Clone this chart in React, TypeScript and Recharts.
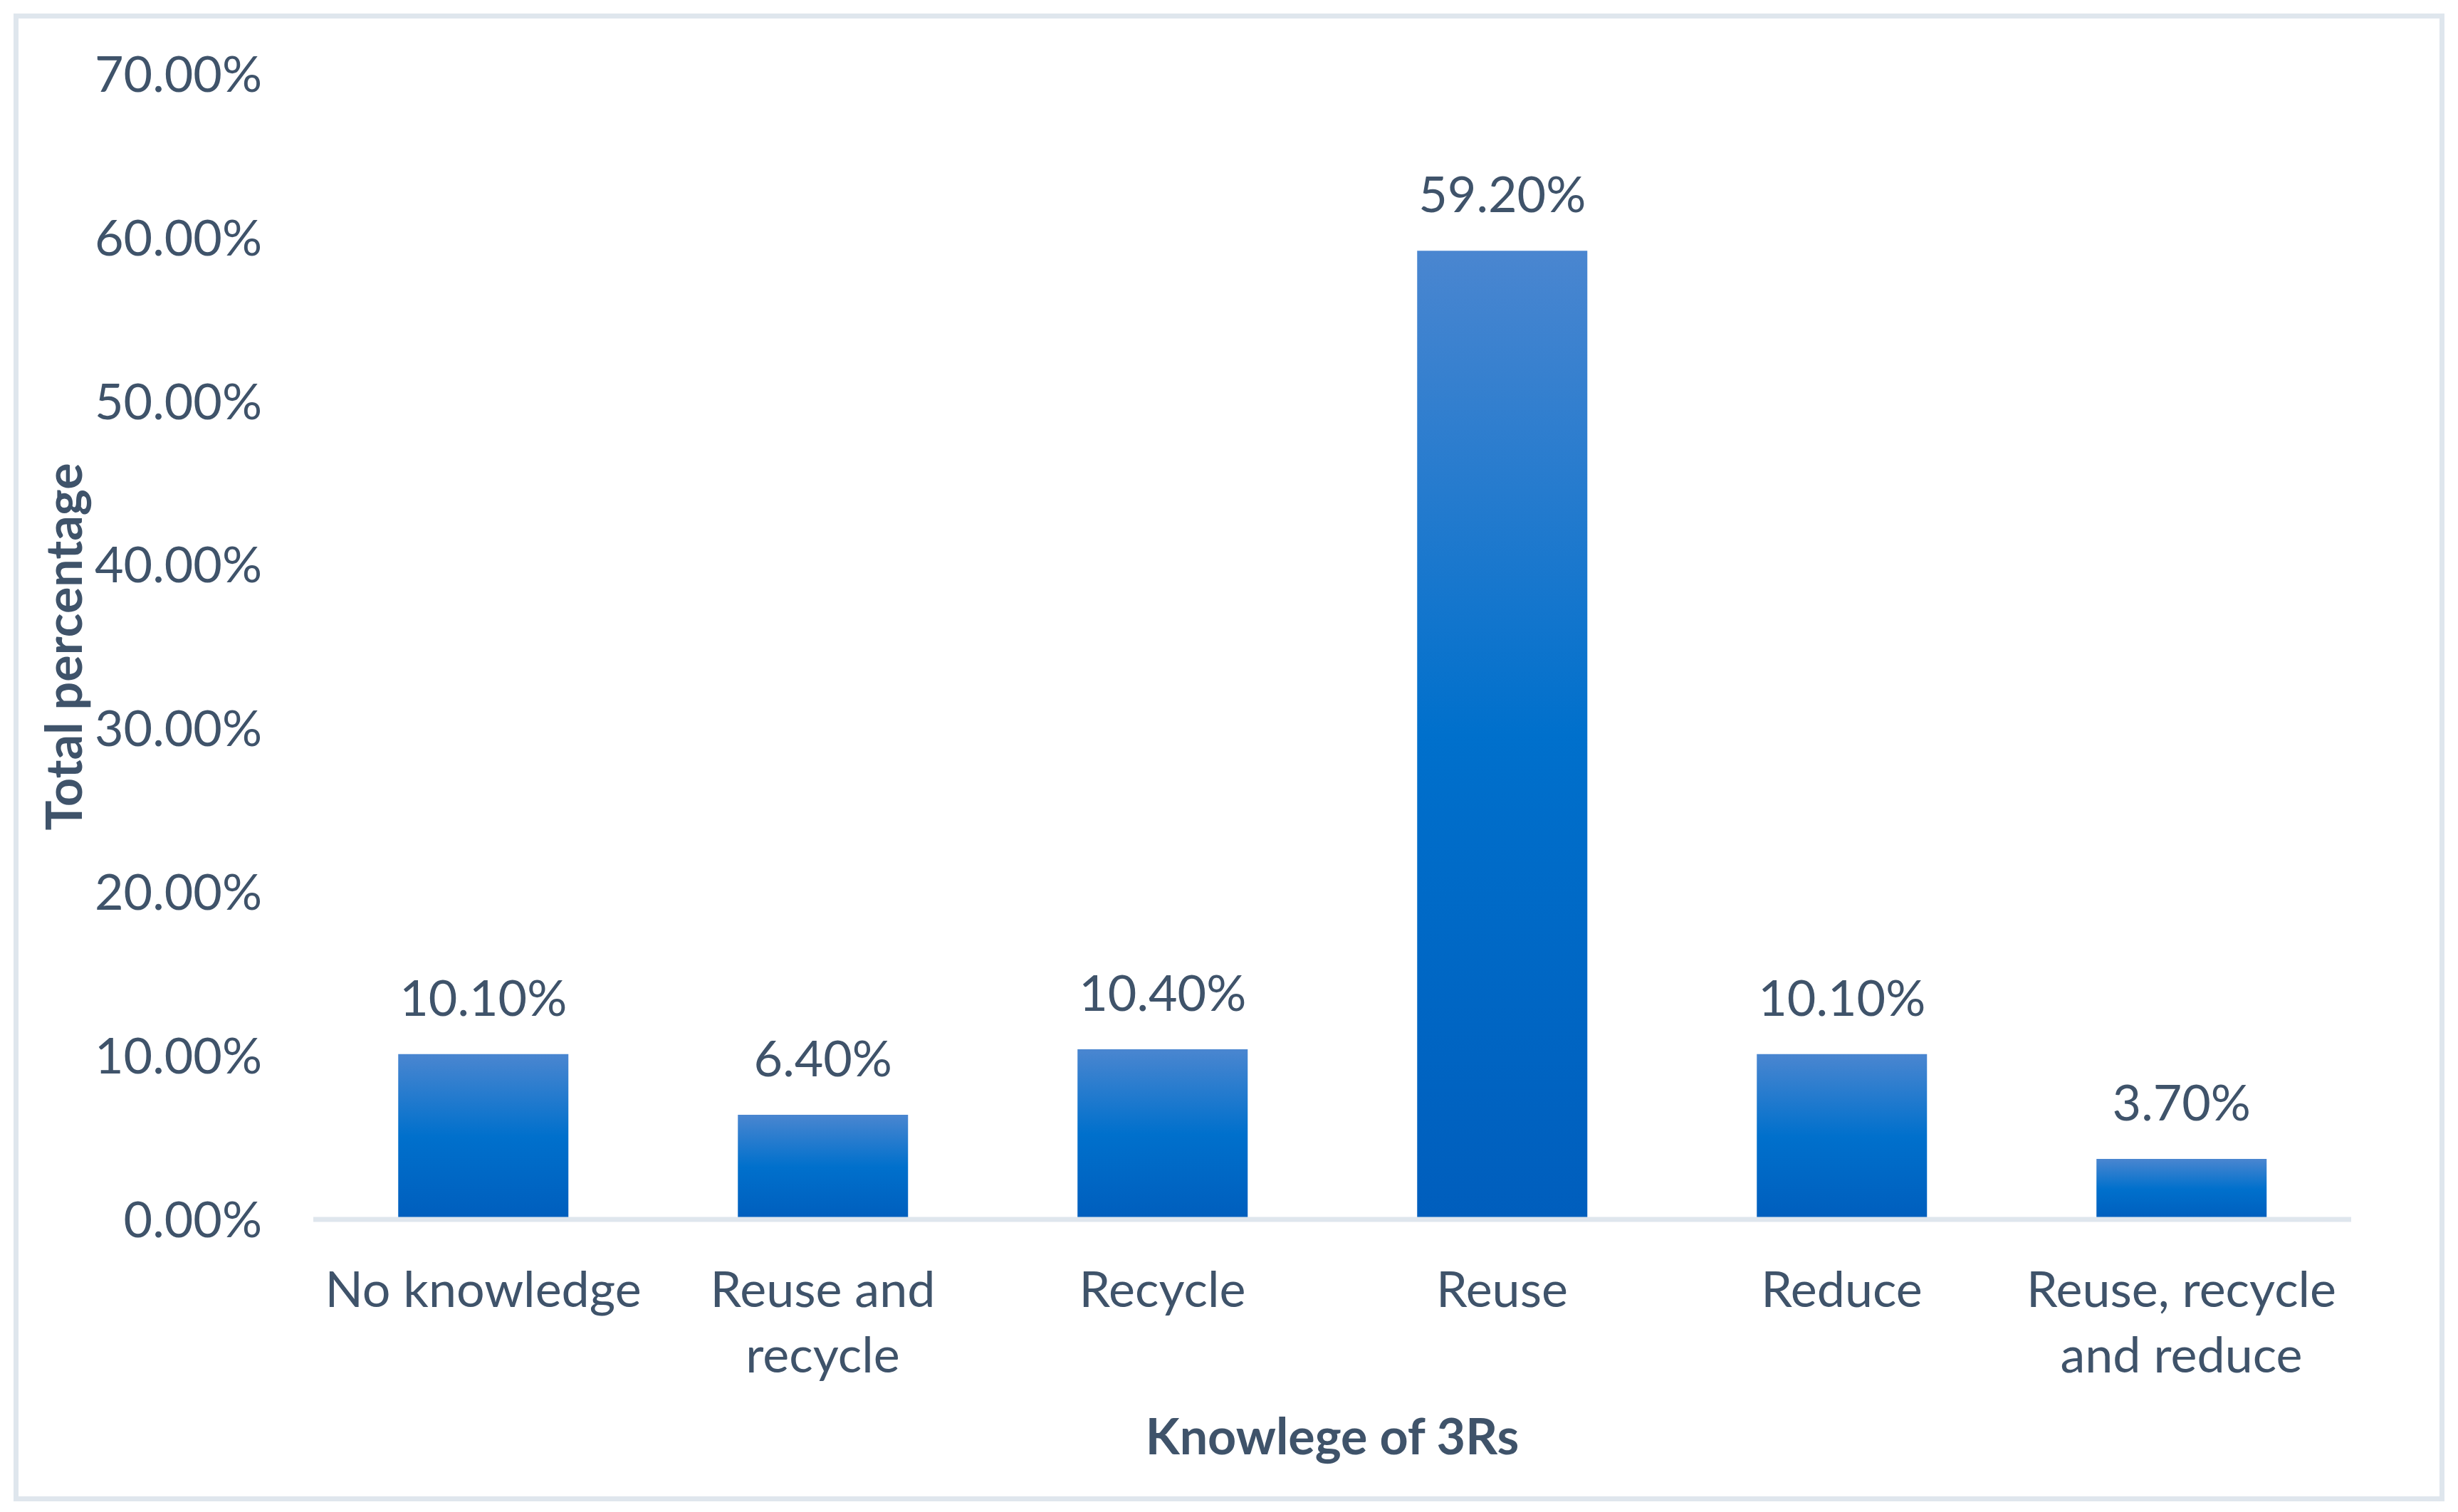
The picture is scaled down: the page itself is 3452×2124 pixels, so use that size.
import React from "react";
import { BarChart, Bar, XAxis, YAxis, LabelList, Label } from "recharts";

const categories = [
  "No knowledge",
  "Reuse and recycle",
  "Recycle",
  "Reuse",
  "Reduce",
  "Reuse, recycle and reduce",
];
const percentages = [10.1, 6.4, 10.4, 59.2, 10.1, 3.7];
const yTicks = [0, 10, 20, 30, 40, 50, 60, 70];

const data = categories.map((name, i) => ({ name, value: percentages[i] }));

const TEXT = "#3f536a";
const FONT = "Lato, 'Open Sans', sans-serif";

function wrap(label: string, max: number): string[] {
  const words = label.split(" ");
  const lines: string[] = [];
  let cur = "";
  for (const w of words) {
    const next = cur ? cur + " " + w : w;
    if (next.length > max && cur) {
      lines.push(cur);
      cur = w;
    } else {
      cur = next;
    }
  }
  if (cur) lines.push(cur);
  return lines;
}

const XTick = (props: any) => {
  const { x, y, payload } = props;
  const lines = wrap(String(payload.value), 14);
  return (
    <g>
      {lines.map((l, i) => (
        <text
          key={i}
          x={x}
          y={y + 123 + i * 92}
          textAnchor="middle"
          fill={TEXT}
          fontSize={70}
          fontFamily={FONT}
        >
          {l}
        </text>
      ))}
    </g>
  );
};

const BarLabel = (props: any) => {
  const { x, y, width, value } = props;
  return (
    <text
      x={x + width / 2}
      y={y - 54}
      textAnchor="middle"
      fill={TEXT}
      fontSize={70}
      fontFamily={FONT}
    >
      {Number(value).toFixed(2) + "%"}
    </text>
  );
};

export default function App() {
  return (
    <div style={{ position: "absolute", left: 0, top: 0, width: 3452, height: 2124, background: "#fff" }}>
      <div
        style={{
          position: "absolute",
          left: 19,
          top: 19,
          width: 3400,
          height: 2076,
          border: "7px solid #dfe6ed",
          pointerEvents: "none",
        }}
      />
      <div style={{ position: "absolute", left: 0, top: 0 }}>
        <BarChart
          width={3452}
          height={2124}
          data={data}
          margin={{ top: 104, right: 150, bottom: 0, left: 0 }}
          barCategoryGap="25%"
        >
          <defs>
            <linearGradient id="barGrad" x1="0" y1="0" x2="0" y2="1">
              <stop offset="0%" stopColor="#4a86d0" />
              <stop offset="50%" stopColor="#0070cc" />
              <stop offset="100%" stopColor="#005ebd" />
            </linearGradient>
          </defs>
          <XAxis
            dataKey="name"
            height={411}
            tickLine={false}
            axisLine={{ stroke: "#dfe6ed", strokeWidth: 7 }}
            tick={<XTick />}
            tickSize={0}
            tickMargin={0}
            interval={0}
          >
            <Label
              content={(p: any) => {
                const vb = p.viewBox;
                return (
                  <text
                    x={vb.x + vb.width / 2}
                    y={2043}
                    textAnchor="middle"
                    fill={TEXT}
                    fontSize={70}
                    fontWeight="bold"
                    fontFamily={FONT}
                  >
                    Knowlege of 3Rs
                  </text>
                );
              }}
            />
          </XAxis>
          <YAxis
            width={440}
            domain={[0, 70]}
            ticks={yTicks}
            interval={0}
            tickLine={false}
            axisLine={false}
            tickSize={0}
            tickMargin={72}
            tickFormatter={(v: number) => v.toFixed(2) + "%"}
            tick={{ fill: TEXT, fontSize: 70, fontFamily: FONT }}
          >
            <Label
              content={(p: any) => {
                const vb = p.viewBox;
                const cy = vb.y + vb.height / 2;
                return (
                  <text
                    x={88}
                    y={cy}
                    transform={`rotate(-90, 88, ${cy})`}
                    textAnchor="middle"
                    dominantBaseline="central"
                    fill={TEXT}
                    fontSize={70}
                    fontWeight="bold"
                    fontFamily={FONT}
                  >
                    Total percentage
                  </text>
                );
              }}
            />
          </YAxis>
          <Bar dataKey="value" fill="url(#barGrad)" isAnimationActive={false}>
            <LabelList dataKey="value" content={<BarLabel />} />
          </Bar>
        </BarChart>
      </div>
    </div>
  );
}
